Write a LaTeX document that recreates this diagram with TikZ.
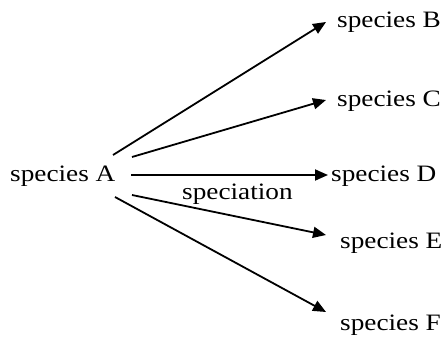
\documentclass[tikz,border=0pt]{standalone}
\usepackage{fontspec}
\setmainfont[FakeStretch=1.16]{Liberation Serif}
\usetikzlibrary{arrows.meta}
\begin{document}
\begin{tikzpicture}[x=1pt,y=-1pt,
  lbl/.style={anchor=base west,inner sep=0pt,font=\fontsize{23.5}{25}\selectfont},
  arr/.style={line width=1.8pt,-{Triangle[length=13pt,width=11pt]}}]
\useasboundingbox (0,0) rectangle (447,339);
\node[lbl] (A) at (10,182) {species A};
\node[lbl] (B) at (337,28) {species B};
\node[lbl] (C) at (337,107) {species C};
\node[lbl] (D) at (331,182) {species D};
\node[lbl] (E) at (340,248) {species E};
\node[lbl] (F) at (340,330) {species F};
\node[lbl] (S) at (182,200) {speciation};
\coordinate (sB) at (113,155);
\coordinate (sC) at (132,157);
\coordinate (sD) at (131,175);
\coordinate (sE) at (132,195);
\coordinate (sF) at (115,197);
\coordinate (tB) at (326,22);
\coordinate (tC) at (326,100);
\coordinate (tD) at (328,175);
\coordinate (tE) at (326,235);
\coordinate (tF) at (326,312);
\draw[arr] (sB) -- (tB);
\draw[arr] (sC) -- (tC);
\draw[arr] (sD) -- (tD);
\draw[arr] (sE) -- (tE);
\draw[arr] (sF) -- (tF);
\end{tikzpicture}
\end{document}
